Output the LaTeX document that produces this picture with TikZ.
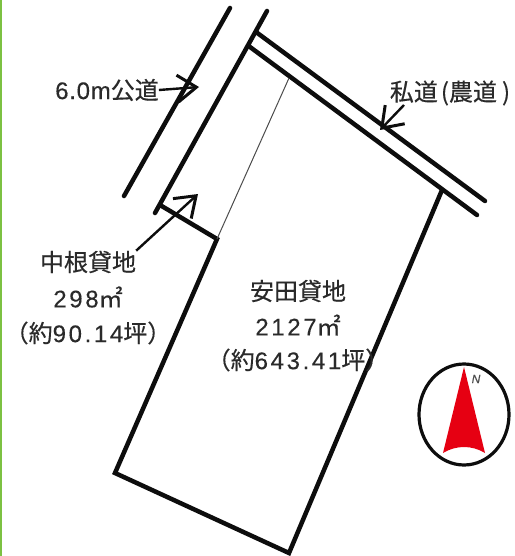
\documentclass[tikz,border=0pt]{standalone}
\usepackage{fontspec}
\usetikzlibrary{arrows.meta,shapes.geometric}
\setmainfont[FakeBold=0.35]{Noto Sans CJK JP}
\newfontfamily\latinpart[LetterSpace=11,FakeBold=0.25]{Liberation Sans}
\newfontfamily\unitpart[LetterSpace=3,FakeBold=0.25]{Liberation Sans}
\definecolor{edgegreen}{HTML}{7CC142}
\definecolor{inkgray}{HTML}{2A2A2A}
\definecolor{northred}{HTML}{E60012}
\tikzset{
  x=1pt,y=-1pt,
  heavy/.style={line width=4.5pt,line cap=round,line join=miter,black!95},
  thinline/.style={line width=1pt,black!70},
  pointer/.style={line width=2.4pt,black!95,-{Straight Barb[length=19pt,width=27pt,line width=3pt]}},
  label/.style={inner sep=0pt,text=inkgray,font=\fontsize{24}{26}\selectfont,align=center},
}
\begin{document}
\begin{tikzpicture}
\useasboundingbox (0,0) rectangle (514,556);
\fill[white] (0,0) rectangle (514,556);
\fill[edgegreen] (0,0) rectangle (2,556);
% named corners
\coordinate (roadA1) at (230,8);
\coordinate (roadA2) at (124,196);
\coordinate (roadB1) at (267,11);
\coordinate (roadB2) at (155,213);
\coordinate (privA1) at (256,32);
\coordinate (privA2) at (485,201);
\coordinate (privB1) at (250,47);
\coordinate (privB2) at (477,215);
\coordinate (lotNE) at (442,190);
\coordinate (lotSE) at (289,553);
\coordinate (lotSW) at (115,473);
\coordinate (splitS) at (217,239);
\coordinate (splitW) at (160,205);
\coordinate (splitN) at (289,78);
% roads
\draw[heavy] (roadA1) -- (roadA2);
\draw[heavy] (roadB1) -- (roadB2);
\draw[heavy] (privA1) -- (privA2);
\draw[heavy] (privB1) -- (privB2);
% lot
\draw[heavy] (lotNE) -- (lotSE) -- (lotSW) -- (splitS) -- (splitW);
\draw[thinline] (splitS) -- (splitN);
% labels
\node[label,anchor=center] (lblroad) at (107,90) {{\unitpart 6.0m}公道};
\node[label] (lblpriv) at (450,93) {私道\hspace{3pt}({}農道\hspace{5pt})};
\node[label] (lblnakane) at (88,262) {中根貸地};
\node[label] (areanakane) at (88,297) {{\latinpart 298}㎡};
\node[label] (tsubonakane) at (88,333) {（約{\latinpart 90.14}坪）};
\node[label] (lblyasuda) at (298,291) {安田貸地};
\node[label] (areayasuda) at (298,325) {{\latinpart 2127}㎡};
\node[label] (tsuboyasuda) at (298,360) {（約{\latinpart 643.41}坪）};
% pointers
\coordinate (tipRoad) at (199,87);
\coordinate (tipPriv) at (380,130);
\coordinate (tipNakane) at (198,194);
\draw[pointer] (lblroad.east) -- (tipRoad);
\draw[pointer] (404,105) coordinate (tailPriv) -- (tipPriv);
\draw[pointer] (lblnakane.north east) -- (tipNakane);
% compass
\node[draw=black!95,line width=3.2pt,ellipse,minimum width=90pt,minimum height=101pt,inner sep=0pt] (compass) at (464,414.5) {};
\fill[northred] (464,367) coordinate (apex) -- (485,453) .. controls (472,445) and (456,445) .. (443,453) -- cycle;
\node[inner sep=0pt,text=black!70,font=\fontsize{12}{12}\selectfont\itshape] (north) at (476,379) {\unitpart N};
\end{tikzpicture}
\end{document}
